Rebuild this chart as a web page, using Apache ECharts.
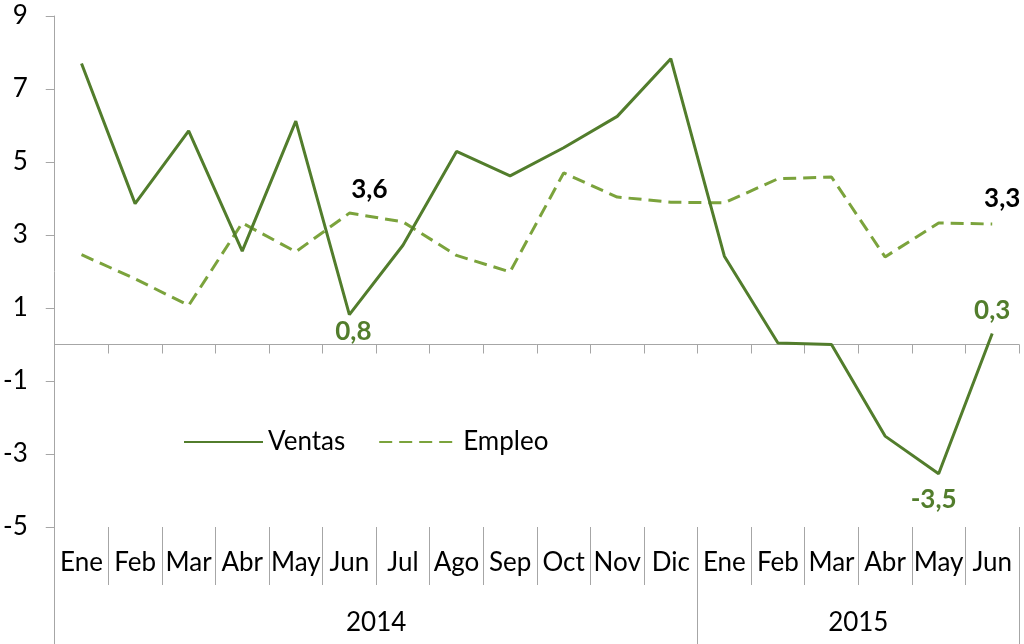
<!DOCTYPE html>
<html>
<head>
<meta charset="utf-8">
<script src="https://cdn.jsdelivr.net/npm/echarts@6/dist/echarts.min.js"></script>
<style>
html,body{margin:0;padding:0;background:#fff;}
#chart{width:1024px;height:644px;}
</style>
</head>
<body>
<div id="chart"></div>
<script>
const months = ['Ene','Feb','Mar','Abr','May','Jun','Jul','Ago','Sep','Oct','Nov','Dic','Ene','Feb','Mar','Abr','May','Jun'];
const years = ['2014','2015'];
const yearLengths = [12, 6];
const ventas = [7.70, 3.86, 5.85, 2.56, 6.12, 0.82, 2.72, 5.29, 4.62, 5.39, 6.25, 7.83, 2.42, 0.04, 0.0, -2.51, -3.54, 0.3];
const empleo = [2.46, 1.80, 1.07, 3.33, 2.54, 3.6, 3.36, 2.44, 1.99, 4.70, 4.04, 3.90, 3.88, 4.54, 4.59, 2.40, 3.33, 3.3];
const yTicks = [-5, -3, -1, 1, 3, 5, 7, 9];

const FONT = 'Lato';
const FS = 26;
const C_VENTAS = '#527d2c';
const C_EMPLEO = '#7ba33c';
const AXIS_C = '#a6a6a6';

function fmt(v){ return v.toFixed(1).replace('.', ','); }

// year label positions (centres of each span) and boundaries
const yearCentres = [], yearBounds = [0];
let acc = 0;
yearLengths.forEach(n => { yearCentres.push(acc + n/2); acc += n; yearBounds.push(acc); });

const ventasLabels = {5: {position:'bottom', distance:4, offset:[4,0]}, 16: {position:'bottom', distance:13, offset:[-5,0]}, 17: {position:'top', distance:10, offset:[0,0]}};
const empleoLabels = {5: {position:'top', distance:10, offset:[20,0]}, 17: {position:'top', distance:12, offset:[10,0]}};

function build(values, labels, color){
  return values.map((v, i) => {
    if (labels[i]) {
      return {value: v, label: Object.assign({show:true, formatter: p => fmt(p.value), color: color, fontFamily: FONT, fontWeight:'bold', fontSize:FS}, labels[i])};
    }
    return v;
  });
}

const chart = echarts.init(document.getElementById('chart'));
chart.setOption({
  animation: false,
  backgroundColor: '#fff',
  grid: {left: 52, right: 5, top: 16, bottom: 117, containLabel: false},
  legend: {
    left: 183, top: 429, padding: 0,
    itemWidth: 79, itemHeight: 14, itemGap: 33,
    itemStyle: {opacity: 0},
    textStyle: {fontFamily: FONT, fontSize: FS, color: '#000'},
    data: ['Ventas', 'Empleo']
  },
  xAxis: [
    {
      type: 'category', data: months, boundaryGap: true, position: 'bottom',
      axisLine: {onZero: true, lineStyle: {color: AXIS_C, width: 1}},
      axisTick: {show: true, length: 9, lineStyle: {color: AXIS_C}},
      axisLabel: {show: false}, splitLine: {show: false}
    },
    {
      type: 'category', data: months, boundaryGap: true, position: 'bottom',
      axisLine: {show: false, onZero: false},
      axisTick: {show: true, length: 58, lineStyle: {color: AXIS_C}},
      axisLabel: {show: true, interval: 0, margin: 23, fontFamily: FONT, fontSize: FS, color: '#000'},
      splitLine: {show: false}
    },
    {
      type: 'value', min: 0, max: yearLengths.reduce((a,b)=>a+b,0), position: 'bottom',
      axisLine: {show: false, onZero: false},
      axisTick: {show: true, length: 117, customValues: yearBounds, lineStyle: {color: AXIS_C}},
      axisLabel: {show: true, margin: 83, customValues: yearCentres,
        formatter: v => years[yearCentres.indexOf(v)], fontFamily: FONT, fontSize: FS, color: '#000'},
      splitLine: {show: false}
    }
  ],
  yAxis: {
    type: 'value', min: -5, max: 9,
    axisLine: {show: true, lineStyle: {color: AXIS_C}},
    axisTick: {show: true, length: 9, customValues: yTicks, lineStyle: {color: AXIS_C}},
    axisLabel: {customValues: yTicks, margin: 27, fontFamily: FONT, fontSize: FS, color: '#000'},
    splitLine: {show: false}
  },
  series: [
    {
      name: 'Empleo', type: 'line', xAxisIndex: 0, yAxisIndex: 0,
      data: build(empleo, empleoLabels, '#000'),
      symbol: 'circle', symbolSize: 0, showSymbol: true, color: C_EMPLEO,
      lineStyle: {color: C_EMPLEO, width: 3, type: [13, 7]}
    },
    {
      name: 'Ventas', type: 'line', xAxisIndex: 0, yAxisIndex: 0,
      data: build(ventas, ventasLabels, C_VENTAS),
      symbol: 'circle', symbolSize: 0, showSymbol: true, color: C_VENTAS,
      lineStyle: {color: C_VENTAS, width: 3}
    }
  ]
});
</script>
</body>
</html>
